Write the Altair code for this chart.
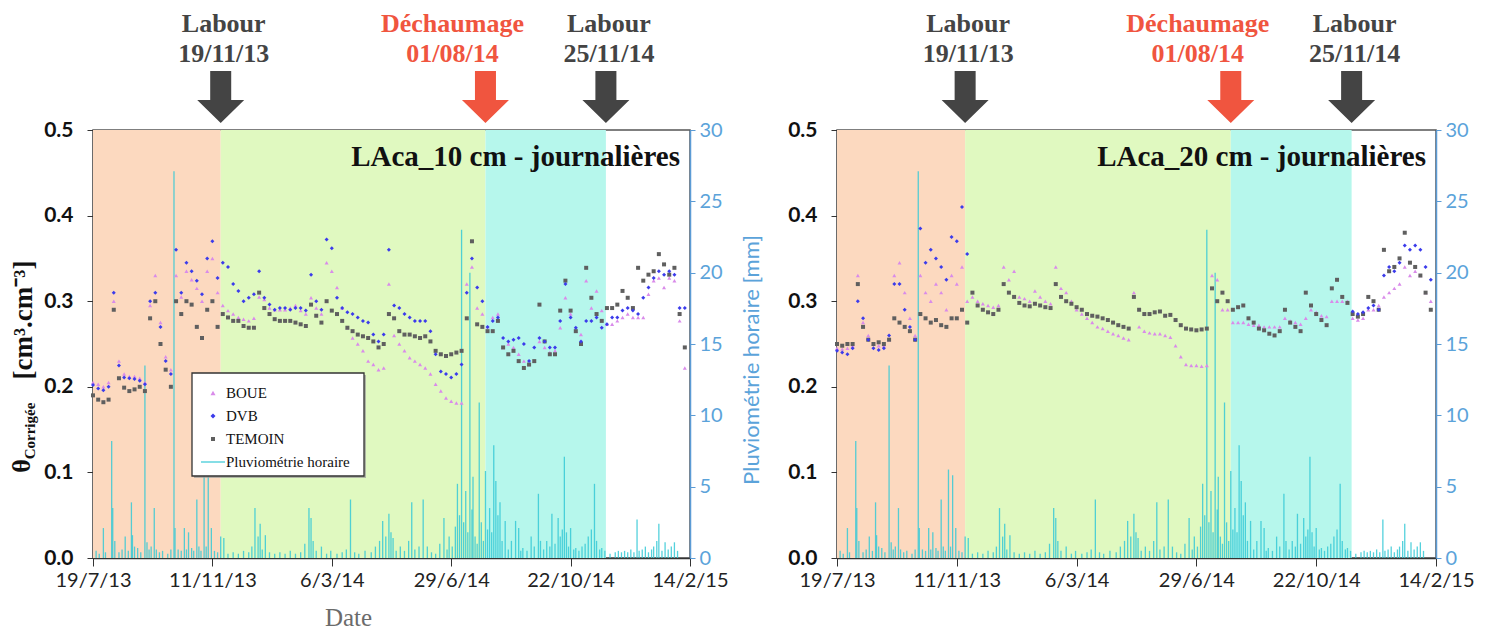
import altair as alt
import pandas as pd

# ---------------- data ----------------
START = "2013-07-19"
END = "2015-02-14"
STEP_DAYS = 5  # one reading every 5 days from START

temoin_10 = [
    .190, .185, .182, .185, .290, .210, .199, .195, .197, .200,
    .195, .280, .300, .250, .220, .200, .300, .285, .300, .296,
    .270, .257, .290, .300, .270, .285, .281, .277, .277, .271,
    .269, .269, .310, .292, .285, .279, .277, .277, .277, .275,
    .273, .271, .296, .283, .275, .300, .289, .285, .277, .269,
    .265, .261, .259, .257, .253, .246, .250, .285, .280, .265,
    .261, .261, .259, .257, .259, .253, .242, .238, .236, .238,
    .240, .242, .280, .370, .273, .270, .265, .265, .277, .246,
    .238, .242, .230, .222, .226, .230, .296, .253, .238, .238,
    .289, .324, .289, .265, .250, .339, .304, .285, .277, .292,
    .292, .296, .312, .304, .292, .339, .324, .331, .335, .355,
    .343, .331, .339, .285, .246]
dvb_10 = [
    .202, .198, .196, .200, .310, .225, .211, .210, .209, .207,
    .203, .300, .310, .270, .230, .215, .360, .310, .345, .335,
    .324, .308, .350, .370, .327, .345, .340, .320, .312, .300,
    .304, .308, .335, .304, .296, .290, .292, .292, .290, .292,
    .292, .289, .331, .300, .290, .372, .362, .304, .292, .287,
    .285, .281, .277, .275, .261, .253, .261, .360, .295, .292,
    .285, .281, .277, .277, .277, .265, .238, .218, .215, .211,
    .215, .226, .310, .350, .316, .300, .270, .277, .281, .257,
    .253, .255, .257, .250, .230, .246, .257, .253, .246, .246,
    .277, .320, .281, .269, .253, .277, .277, .281, .269, .273,
    .281, .281, .289, .292, .289, .285, .304, .316, .327, .335,
    .331, .335, .331, .292, .292]
boue_10 = [
    .205, .203, .200, .205, .300, .230, .215, .212, .212, .210,
    .205, .295, .330, .275, .235, .220, .330, .305, .335, .325,
    .315, .300, .335, .350, .310, .295, .289, .285, .281, .279,
    .277, .280, .305, .302, .292, .290, .290, .290, .292, .295,
    .289, .285, .304, .292, .285, .345, .335, .316, .292, .269,
    .257, .250, .242, .230, .226, .220, .222, .320, .260, .250,
    .242, .234, .230, .226, .222, .215, .203, .195, .187, .183,
    .181, .181, .320, .340, .292, .285, .270, .281, .285, .246,
    .250, .246, .238, .230, .226, .230, .253, .246, .240, .242,
    .269, .304, .285, .265, .261, .324, .292, .312, .289, .273,
    .273, .277, .281, .285, .281, .281, .281, .308, .324, .327,
    .316, .327, .324, .277, .222]

temoin_20 = [
    .250, .248, .250, .250, .320, .270, .255, .250, .252, .250,
    .255, .280, .275, .270, .265, .255, .285, .280, .275, .278,
    .272, .270, .280, .280, .290, .275, .310, .295, .290, .287,
    .285, .290, .320, .310, .305, .298, .295, .294, .297, .295,
    .293, .292, .320, .305, .300, .297, .293, .290, .285, .283,
    .282, .280, .278, .275, .272, .270, .268, .305, .290, .285,
    .285, .287, .288, .283, .284, .278, .272, .268, .267, .266,
    .267, .268, .315, .300, .310, .300, .290, .293, .295, .280,
    .275, .268, .266, .262, .260, .265, .290, .275, .270, .265,
    .310, .295, .285, .278, .272, .315, .325, .305, .298, .285,
    .282, .285, .305, .300, .290, .360, .335, .340, .350, .380,
    .345, .340, .330, .310, .290]
dvb_20 = [
    .242, .240, .238, .245, .300, .280, .255, .245, .243, .245,
    .260, .320, .320, .290, .270, .255, .385, .345, .360, .350,
    .340, .325, .375, .370, .410, .355, None, None, None, None,
    None, None, None, None, None, None, None, None, None, None,
    None, None, None, None, None, None, None, None, None, None,
    None, None, None, None, None, None, None, None, None, None,
    None, None, None, None, None, None, None, None, None, None,
    None, None, None, None, None, None, None, None, None, None,
    None, None, None, None, None, None, None, None, None, None,
    None, None, None, None, None, None, None, None, None, .288,
    .285, .287, .292, .295, .290, .330, .340, .335, .345, .365,
    .360, .365, .360, .340, .325]
boue_20 = [
    .245, .244, .245, .248, .330, .275, .260, .250, .248, .248,
    .255, .330, .345, .310, .280, .260, .330, .310, .300, .320,
    .310, .290, .330, .320, .340, .300, .305, .300, .297, .295,
    .293, .295, .340, .325, .335, .305, .303, .300, .312, .305,
    .300, .297, .340, .315, .310, .300, .290, .285, .280, .275,
    .270, .268, .265, .262, .260, .257, .255, .310, .270, .265,
    .263, .262, .262, .260, .258, .248, .235, .226, .225, .225,
    .224, .225, .330, .325, .290, .290, .275, .275, .275, .273,
    .272, .272, .270, .270, .270, .270, .280, .277, .275, .273,
    .280, .290, .287, .283, .282, .300, .300, .300, .300, .280,
    .278, .280, .290, .290, .295, .305, .310, .315, .320, .340,
    .330, .335, .330, .310, .300]

# hourly rainfall peaks: day offset from START, mm
rain_day = [
    3, 6, 10, 12, 18, 19, 21, 25, 28, 31, 34, 37, 38, 40, 43, 46, 50, 52, 54, 56,
    59, 61, 64, 67, 72, 75, 78, 79, 82, 85, 88, 90, 92, 95, 97, 100, 102, 104, 107, 109,
    111, 114, 117, 120, 123,
    126, 130, 135, 140, 145, 150, 153, 156, 159, 161, 163, 166, 170, 175, 180, 185, 190, 195, 200, 204,
    208, 210, 212, 215, 220, 225, 229, 235, 240, 244, 248, 252, 256, 262, 268, 272, 276, 279, 282, 285,
    287, 289, 292, 296, 300, 304, 307, 310, 314, 318, 322, 326, 330, 334, 338, 341, 343, 346, 349, 351,
    353, 355, 357, 359, 361, 363, 365, 366, 368, 370, 372, 374, 376,
    378, 380, 382, 384, 386, 388, 390, 392, 394, 397, 400, 403, 407, 410, 412, 414, 418, 422, 425, 429,
    431, 434, 437, 440, 442, 445, 448, 450, 452, 454, 456, 458, 460, 463, 465, 468, 471, 474, 477, 480,
    483, 485, 488, 490, 493,
    498, 503, 506, 509, 512, 515, 518, 521, 524, 526, 529, 532, 535, 538, 540, 543, 545, 548, 551, 554,
    557, 560, 563]
rain_mm = [
    0.5, 0.3, 2.1, 0.4, 8.2, 3.5, 1.2, 0.4, 0.6, 1.5, 0.5, 3.9, 1.6, 0.8, 0.7, 0.4, 13.5, 1.1, 0.6, 0.8,
    3.5, 0.6, 0.4, 0.5, 0.3, 0.6, 27.1, 2.1, 0.6, 0.5, 2.1, 0.6, 1.8, 0.7, 0.5, 4.1, 0.8, 0.5, 6.2, 0.8,
    5.8, 2.1, 0.5, 0.4, 1.5,
    1.4, 0.3, 0.4, 0.3, 0.5, 0.4, 0.8, 3.5, 1.5, 2.4, 0.6, 1.6, 0.4, 0.3, 0.4, 0.3, 0.5, 0.3, 0.4, 1.0,
    3.5, 2.8, 1.2, 0.5, 0.8, 0.3, 0.5, 0.3, 0.4, 0.6, 4.1, 0.4, 0.3, 0.5, 0.4, 0.8, 1.2, 2.6, 1.5, 3.1,
    1.8, 1.4, 0.5, 0.8, 0.5, 1.2, 3.9, 0.6, 0.8, 4.1, 0.8, 0.4, 0.3, 1.0, 2.8, 0.6, 1.5, 0.8, 2.2, 5.2,
    3.0, 23.0, 2.5, 4.7, 1.8, 20.0, 3.4, 5.7, 1.5, 1.0, 10.9, 2.5, 1.2,
    6.1, 2.0, 3.5, 1.8, 7.9, 5.4, 3.0, 3.9, 1.2, 2.6, 0.6, 1.2, 2.6, 2.1, 0.5, 0.7, 0.5, 1.5, 0.8, 4.5,
    1.2, 0.6, 1.2, 0.8, 3.1, 1.0, 2.8, 1.5, 2.0, 7.1, 1.8, 0.8, 2.1, 0.6, 0.7, 0.5, 0.8, 1.0, 1.5, 2.0,
    5.2, 1.2, 0.6, 0.7, 0.5,
    0.3, 0.4, 0.5, 0.4, 0.5, 0.4, 0.6, 0.4, 2.7, 0.5, 0.6, 0.8, 0.4, 0.6, 0.8, 1.2, 2.4, 0.5, 1.1, 0.6,
    0.8, 1.1, 0.5]

band_start = ["2013-07-19", "2013-11-19", "2014-08-01"]
band_end = ["2013-11-19", "2014-08-01", "2014-11-25"]
band_fill = ["#FCD9BF", "#E0F9C0", "#B6F7EC"]

labour_dates = ["2013-11-19", "2014-11-25"]
labour_labels = ["19/11/13", "25/11/14"]
dech_dates = ["2014-08-01"]
dech_labels = ["01/08/14"]

tick_dates = ["2013-07-19", "2013-11-11", "2014-03-06", "2014-06-29", "2014-10-22", "2015-02-14"]

series_names = ["BOUE", "DVB", "TEMOIN"]
series_colors = ["#D98BEA", "#3B3BEB", "#5F5F5F"]
series_shapes = ["triangle-up", "diamond", "square"]
series_sizes = [16, 16, 10]

# ---------------- styling ----------------
H = 428
SERIF = "Liberation Serif"
SANS = "Lato"
RAIN_COLOR = "#36C9D6"
BLUE_AX = "#5B9BD5"
BLUE_TXT = "#5BA3DA"
DARK = "#444444"
RED = "#F0553F"
ARROW = ("M-0.404,-1L0.404,-1L0.404,0.115L0.904,0.115L0,1"
         "L-0.904,0.115L-0.404,0.115Z")


def dt(s):
    t = pd.Timestamp(s)
    return alt.DateTime(year=t.year, month=t.month, date=t.day)


XS = alt.Scale(domain=[dt(START), dt(END)], nice=False)
ONE = pd.DataFrame({"k": [0]})


def panel(depth, tem, dvb, boue, width, first):
    grid = pd.date_range(START, periods=len(tem), freq=f"{STEP_DAYS}D")
    rows = []
    for name, vals in (("BOUE", boue), ("TEMOIN", tem), ("DVB", dvb)):
        for d, v in zip(grid, vals):
            if v is not None:
                rows.append({"date": d, "theta": v, "serie": name})
    pts = pd.DataFrame(rows)

    bands = pd.DataFrame({"start": pd.to_datetime(band_start),
                          "end": pd.to_datetime(band_end),
                          "fill": band_fill})
    rain = pd.DataFrame({"date": pd.Timestamp(START) + pd.to_timedelta(rain_day, unit="D"),
                         "mm": rain_mm})
    lab = pd.DataFrame({"date": pd.to_datetime(labour_dates), "l1": "Labour", "l2": labour_labels})
    dech = pd.DataFrame({"date": pd.to_datetime(dech_dates), "l1": "Déchaumage", "l2": dech_labels})

    ax_kw = dict(values=[dt(s) for s in tick_dates], format="%-d/%-m/%y",
                 labelFlush=False, labelOverlap=False, grid=False,
                 labelFont=SANS, labelFontSize=20, labelColor="#222",
                 tickColor="#333", tickSize=8, domainColor="#333", domainWidth=1.5,
                 labelPadding=4)
    if first:
        ax_kw.update(title="Date", titleFont=SERIF, titleFontSize=25,
                     titleFontWeight="normal", titleColor="#6b6b6b",
                     titleX=255, titleY=47)
    else:
        ax_kw.update(title=None)
    xaxis = alt.Axis(**ax_kw)

    def X(field):
        return alt.X(field, scale=XS, axis=xaxis)

    layers = []
    layers.append(alt.Chart(bands).mark_rect().encode(
        x=X("start:T"), x2="end:T",
        y=alt.value(0), y2=alt.value(H),
        fill=alt.Fill("fill:N", scale=None)))

    r_axis = alt.Axis(orient="right", values=list(range(0, 31, 5)), grid=False, title=None,
                      labelFont=SANS, labelFontSize=20, labelColor=BLUE_TXT,
                      tickColor=BLUE_AX, domainColor=BLUE_AX, domainWidth=1.5,
                      tickSize=5, labelPadding=4)
    layers.append(alt.Chart(rain).mark_rule(color=RAIN_COLOR, strokeWidth=1.3, opacity=0.85).encode(
        x=X("date:T"),
        y=alt.Y("mm:Q", scale=alt.Scale(domain=[0, 30], nice=False), axis=r_axis),
        y2=alt.datum(0)))

    l_axis = alt.Axis(orient="left", values=[0, 0.1, 0.2, 0.3, 0.4, 0.5], format=".1f",
                      title=None, grid=False, labelFont=SANS, labelFontSize=21,
                      labelFontWeight="bold", labelColor="#111", tickColor="#333",
                      tickSize=6, domainColor="#333", domainWidth=1.5, labelPadding=14)
    layers.append(alt.Chart(pts).mark_point(filled=True, opacity=1).encode(
        x=X("date:T"),
        y=alt.Y("theta:Q", scale=alt.Scale(domain=[0, 0.5], nice=False), axis=l_axis),
        color=alt.Color("serie:N", scale=alt.Scale(domain=series_names, range=series_colors), legend=None),
        shape=alt.Shape("serie:N", scale=alt.Scale(domain=series_names, range=series_shapes), legend=None),
        size=alt.Size("serie:N", scale=alt.Scale(domain=series_names, range=series_sizes), legend=None)))

    # panel title
    layers.append(alt.Chart(ONE).mark_text(
        text=f"LAca_{depth} cm - journalières", font=SERIF, fontSize=29, fontWeight="bold",
        color="#111", align="right", baseline="middle").encode(
        x=alt.value(width - 10), y=alt.value(27)))

    # event arrows and labels
    for df, col, ddx in ((lab, DARK, 3), (dech, RED, -33)):
        layers.append(alt.Chart(df).mark_point(shape=ARROW, filled=True, size=2704, opacity=1,
                                               fill=col, strokeWidth=0).encode(
            x=X("date:T"), y=alt.value(-33)))
        for fld, yy in (("l1", -106), ("l2", -76)):
            layers.append(alt.Chart(df).mark_text(font=SERIF, fontSize=26, fontWeight="bold",
                                                  color=col, dx=ddx, baseline="middle").encode(
                x=X("date:T"), y=alt.value(yy), text=f"{fld}:N"))

    if first:
        # legend box
        layers.append(alt.Chart(ONE).mark_rect(fill="#9a9a9a", opacity=0.7).encode(
            x=alt.value(101), x2=alt.value(273), y=alt.value(245), y2=alt.value(348)))
        layers.append(alt.Chart(ONE).mark_rect(fill="white", stroke="#333", strokeWidth=1.3).encode(
            x=alt.value(99), x2=alt.value(271), y=alt.value(243), y2=alt.value(346)))
        for i, (nm, c, s, sz) in enumerate(zip(series_names, series_colors, series_shapes, series_sizes)):
            py = 263 + 23 * i
            layers.append(alt.Chart(ONE).mark_point(shape=s, filled=True, fill=c, size=sz * 1.6,
                                                    opacity=1, strokeWidth=0).encode(
                x=alt.value(120), y=alt.value(py)))
            layers.append(alt.Chart(ONE).mark_text(text=nm, font=SERIF, fontSize=15, color="#111",
                                                   align="left", baseline="middle").encode(
                x=alt.value(133), y=alt.value(py)))
        layers.append(alt.Chart(ONE).mark_rule(color=RAIN_COLOR, strokeWidth=1.2).encode(
            x=alt.value(108), x2=alt.value(132), y=alt.value(332)))
        layers.append(alt.Chart(ONE).mark_text(text="Pluviométrie horaire", font=SERIF, fontSize=15,
                                               color="#111", align="left", baseline="middle").encode(
            x=alt.value(133), y=alt.value(332)))
        # left y-axis title  θ_Corrigée [cm³.cm⁻³]
        layers.append(alt.Chart(ONE).mark_text(text="θ", font=SERIF, fontSize=26, fontWeight="bold",
                                               color="#111", angle=270, baseline="middle").encode(
            x=alt.value(-71), y=alt.value(336)))
        layers.append(alt.Chart(ONE).mark_text(text="Corrigée", font=SERIF, fontSize=15, fontWeight="bold",
                                               color="#111", angle=270, baseline="middle").encode(
            x=alt.value(-63), y=alt.value(301)))
        layers.append(alt.Chart(ONE).mark_text(text="[cm³.cm⁻³]", font=SERIF, fontSize=27, fontWeight="bold",
                                               color="#111", angle=270, baseline="middle").encode(
            x=alt.value(-69), y=alt.value(190)))
        # right y-axis title
        layers.append(alt.Chart(ONE).mark_text(text="Pluviométrie horaire [mm]", font=SANS, fontSize=22,
                                               color=BLUE_TXT, angle=270, baseline="middle").encode(
            x=alt.value(width + 62), y=alt.value(230)))

    return alt.layer(*layers).resolve_scale(y="independent").properties(width=width, height=H)


left = panel(10, temoin_10, dvb_10, boue_10, 597, True)
right = panel(20, temoin_20, dvb_20, boue_20, 599, False)

chart = alt.hconcat(left, right, spacing=22).properties(
    padding={"left": 0, "top": 2, "right": 0, "bottom": 0},
    background="white",
).configure_view(stroke="#555", strokeWidth=1.5)

chart.save("out.html", embed_options={"renderer": "svg", "actions": False})
